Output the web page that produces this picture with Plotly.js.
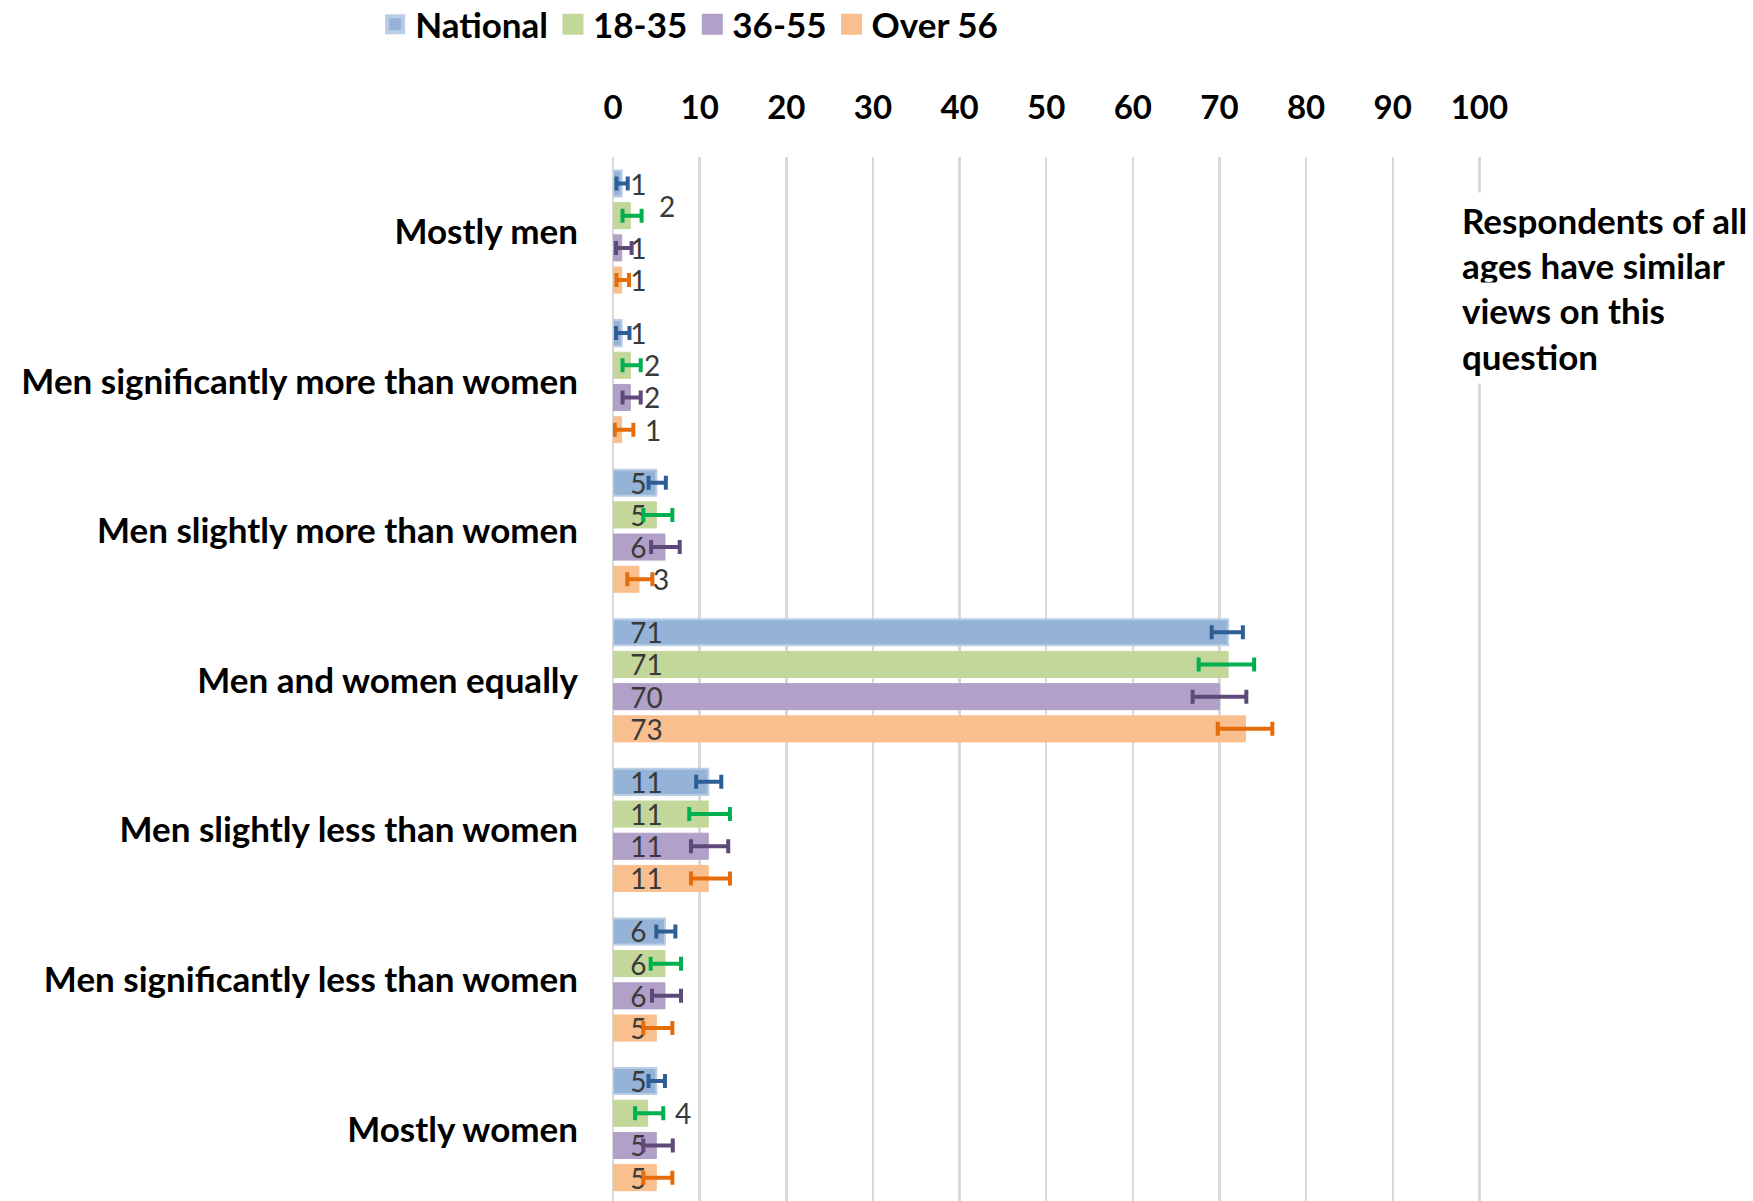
<!DOCTYPE html>
<html>
<head>
<meta charset="utf-8">
<script src="https://cdn.plot.ly/plotly-3.0.1.min.js"></script>
<style>html,body{margin:0;padding:0;background:#fff;}</style>
</head>
<body>
<div id="chart" style="width:1753px;height:1201px;"></div>
<script>
const categories = ["Mostly men","Men significantly more than women","Men slightly more than women","Men and women equally","Men slightly less than women","Men significantly less than women","Mostly women"];
const seriesNames = ["National","18-35","36-55","Over 56"];
const national = [1,1,5,71,11,6,5];
const age18to35 = [2,2,5,71,11,6,4];
const age36to55 = [1,2,6,70,11,6,5];
const over56 = [1,1,3,73,11,5,5];
const nationalErrPlus = [0.7,0.9,1.1,1.7,1.5,1.2,1.0];
const nationalErrMinus = [0.6,0.65,0.9,1.9,1.4,1.0,0.9];
const age18to35ErrPlus = [1.3,1.2,1.85,3.0,2.5,1.85,1.8];
const age18to35ErrMinus = [0.9,0.9,1.5,3.4,2.2,1.65,1.45];
const age36to55ErrPlus = [1.15,1.2,1.7,3.1,2.3,1.85,1.9];
const age36to55ErrMinus = [0.65,0.9,1.6,3.1,2.0,1.5,1.5];
const over56ErrPlus = [0.85,1.35,1.55,3.1,2.5,1.85,1.85];
const over56ErrMinus = [0.6,0.8,1.35,3.2,2.0,1.5,1.5];
const xTicks = [0,10,20,30,40,50,60,70,80,90,100];
const noteLines = ["Respondents of all","ages have similar","views on this","question"];

// style: labels that were moved by hand in the original (pixel nudges)
const labelNudges = [
  {cat: 0, s: 1, dx: 32, dy: 10},
  {cat: 1, s: 1, dx: 17, dy: 0},
  {cat: 1, s: 2, dx: 17, dy: 0},
  {cat: 1, s: 3, dx: 18, dy: 0},
  {cat: 2, s: 3, dx: 26, dy: 0},
  {cat: 6, s: 1, dx: 48, dy: 0}
];

const FONT = "Lato, 'Open Sans', sans-serif";
const fills = ["#95B3D7","#C4D79B","#B1A0C7","#FABF8F"];
const borders = ["#B9CDE5","#C4D79B","#B1A0C7","#FABF8F"];
const errColors = ["#2E5E96","#00B050","#5F497A","#E46C0A"];
const values = [national, age18to35, age36to55, over56];
const plus = [nationalErrPlus, age18to35ErrPlus, age36to55ErrPlus, over56ErrPlus];
const minus = [nationalErrMinus, age18to35ErrMinus, age36to55ErrMinus, over56ErrMinus];
const labelFont = {family: FONT, size: 28, color: "#3A3A3A"};

const isNudged = (s, c) => labelNudges.some(n => n.s === s && n.cat === c);

const traces = seriesNames.map((name, i) => ({
  type: "bar",
  orientation: "h",
  name: name,
  showlegend: false,
  y: categories,
  x: values[i],
  text: values[i].map((v, j) => isNudged(i, j) ? "" : "\u00A0\u00A0" + v),
  textposition: "inside",
  insidetextanchor: "start",
  constraintext: "none",
  textangle: 0,
  cliponaxis: false,
  textfont: labelFont,
  insidetextfont: labelFont,
  marker: {color: fills[i], line: {color: borders[i], width: i === 0 ? 2 : 1}},
  error_x: {type: "data", symmetric: false, array: plus[i], arrayminus: minus[i], color: errColors[i], thickness: 4, width: 7},
  hoverinfo: "x+name"
}));

// legend-only entries with larger square swatches
seriesNames.forEach((name, i) => {
  traces.push({
    type: "scatter", mode: "markers", name: name,
    x: [null], y: [null],
    marker: {symbol: "square", size: 16, color: fills[i], line: {color: borders[i], width: i === 0 ? 4 : 5}},
    showlegend: true, hoverinfo: "skip"
  });
});

const plotTop = 157, plotBottom = 1201;
const slotPx = 32.2;
const annotations = [];
const lineCenters = [220, 265, 310, 355.5];
noteLines.forEach((t, k) => annotations.push({
  text: t,
  xref: "paper", yref: "paper",
  x: (1455 - 613) / 869, y: 1 - (lineCenters[k] - plotTop) / (plotBottom - plotTop),
  xanchor: "left", yanchor: "middle",
  showarrow: false,
  align: "left",
  bgcolor: "#FFFFFF",
  borderpad: 6,
  font: {family: FONT, size: 35, weight: 700, color: "#000000"}
}));
labelNudges.forEach(n => annotations.push({
  text: String(values[n.s][n.cat]),
  xref: "x", yref: "y",
  x: 0, y: categories[n.cat],
  xanchor: "left", yanchor: "middle",
  xshift: 13 + n.dx,
  yshift: (1.5 - n.s) * slotPx + n.dy,
  borderpad: 0,
  showarrow: false,
  font: labelFont
}));

const layout = {
  width: 1753, height: 1201,
  paper_bgcolor: "#FFFFFF", plot_bgcolor: "#FFFFFF",
  margin: {l: 613, r: 271, t: 157, b: 0, pad: 0, autoexpand: false},
  barmode: "group",
  bargap: 0.139,
  bargroupgap: 0.19,
  showlegend: true,
  legend: {
    orientation: "h", xref: "container", yref: "paper",
    x: 0.214, y: 1 + (plotTop + 5) / (plotBottom - plotTop), xanchor: "left", yanchor: "top",
    font: {family: FONT, size: 35, weight: 700, color: "#000000"},
    itemsizing: "trace",
    traceorder: "normal", itemclick: false, itemdoubleclick: false
  },
  xaxis: {
    side: "top", range: [0, 100.3], autorange: false,
    tickmode: "array", tickvals: xTicks, ticktext: xTicks.map(String),
    showgrid: true, gridcolor: "#D9D9D9", gridwidth: 2.5,
    zeroline: true, zerolinecolor: "#D9D9D9", zerolinewidth: 2.5,
    showline: false,
    ticks: "outside", ticklen: 24, tickcolor: "rgba(0,0,0,0)",
    tickfont: {family: FONT, size: 33, weight: 700, color: "#000000"},
    fixedrange: true
  },
  yaxis: {
    type: "category", autorange: false, range: [6.479, -0.5],
    categoryorder: "array", categoryarray: categories,
    showgrid: false, zeroline: false, showline: false,
    ticks: "outside", ticklen: 27, tickcolor: "rgba(0,0,0,0)",
    tickfont: {family: FONT, size: 35, weight: 700, color: "#000000"},
    fixedrange: true
  },
  annotations: annotations
};

Plotly.newPlot("chart", traces, layout, {displayModeBar: false, staticPlot: true});
</script>
</body>
</html>
